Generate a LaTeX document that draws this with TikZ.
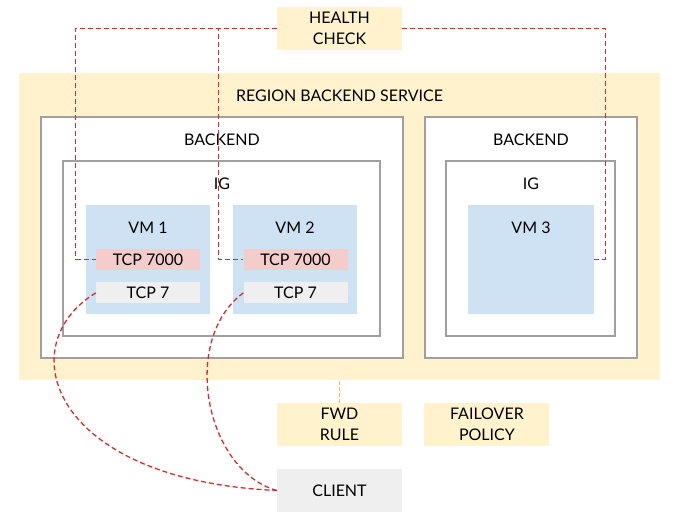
\documentclass[tikz,border=0pt]{standalone}
\usepackage{fontspec}
\setmainfont{Lato}
\usetikzlibrary{positioning, calc}
\definecolor{svcyellow}{HTML}{FFF2CC}
\definecolor{vmblue}{HTML}{CFE2F3}
\definecolor{portpink}{HTML}{F4CCCC}
\definecolor{boxgray}{HTML}{EFEFEF}
\definecolor{edgegray}{HTML}{A0A0A0}
\definecolor{hcred}{HTML}{D32F2F}
\definecolor{fwdorange}{HTML}{F0BE50}

\begin{document}
\begin{tikzpicture}[x=1pt, y=-1pt,
    every node/.style={font=\fontsize{16}{20.5}\selectfont, align=center, inner sep=0pt},
    tag/.style={fill=svcyellow, minimum width=125pt, minimum height=43pt},
    frame/.style={draw=edgegray, line width=1.3pt, fill=white},
    vm/.style={fill=vmblue, minimum width=124pt, minimum height=109pt},
    port/.style={minimum width=104pt, minimum height=21pt},
    probe/.style={draw=hcred, line width=1.3pt, dash pattern=on 5pt off 3pt},
    fwd/.style={draw=fwdorange, line width=1.2pt, dash pattern=on 4pt off 2pt}]
    \useasboundingbox (0,0) rectangle (675,521);
    % region and backends
    \node[fill=svcyellow, minimum width=641pt, minimum height=307pt] (rbs) at (339.5,226.5) {};
    \node (rbslabel) at (339.5,96) {REGION BACKEND SERVICE};
    \node[frame, minimum width=362pt, minimum height=241pt] (be1) at (222,237.5) {};
    \node[frame, minimum width=212pt, minimum height=241pt] (be2) at (531,237.5) {};
    \node (be1label) at (222,140) {BACKEND};
    \node (be2label) at (531,140) {BACKEND};
    \node[frame, minimum width=317pt, minimum height=175pt] (ig1) at (221.5,248.5) {};
    \node[frame, minimum width=169pt, minimum height=175pt] (ig2) at (530.5,248.5) {};
    \node (ig1label) at (222,184) {IG};
    \node (ig2label) at (531,184) {IG};
    % instances
    \node[vm] (vm1) at (148,259.5) {};
    \node[vm] (vm2) at (295,259.5) {};
    \node[vm, minimum width=126pt] (vm3) at (531,259.5) {};
    \node (vm1label) at (148,228) {VM 1};
    \node (vm2label) at (295,228) {VM 2};
    \node (vm3label) at (531,228) {VM 3};
    \node[port, fill=portpink] (hc1) at (148,259.5) {TCP 7000};
    \node[port, fill=boxgray, below=12pt of hc1] (echo1) {TCP 7};
    \node[port, fill=portpink] (hc2) at (295.5,259.5) {TCP 7000};
    \node[port, fill=boxgray, below=12pt of hc2] (echo2) {TCP 7};
    % outside the service
    \node[tag] (hc) at (339.5,28.5) {HEALTH\\CHECK};
    \node[tag] (rule) at (339.5,424.5) {FWD\\RULE};
    \node[tag, right=22pt of rule] (policy) {FAILOVER\\POLICY};
    \node[tag, fill=boxgray] (client) at (339.5,490.5) {CLIENT};
    % connectors
    \draw[probe] (hc.west) -| ([xshift=-20pt]hc1.west) -- (hc1.west);
    \draw[probe] (hc.west) -| ([xshift=-25pt]hc2.west) -- (hc2.west);
    \draw[probe] (hc.east) -| ([xshift=11pt]vm3.east) -- (vm3.east);
    \draw[fwd] (rule.north) -- (rule.north |- rbs.south);
    \draw[probe] (echo1.west) .. controls (10,345) and (50,480) .. (client.west);
    \draw[probe] (echo2.west) .. controls (180,340) and (205,470) .. (client.west);
\end{tikzpicture}
\end{document}
